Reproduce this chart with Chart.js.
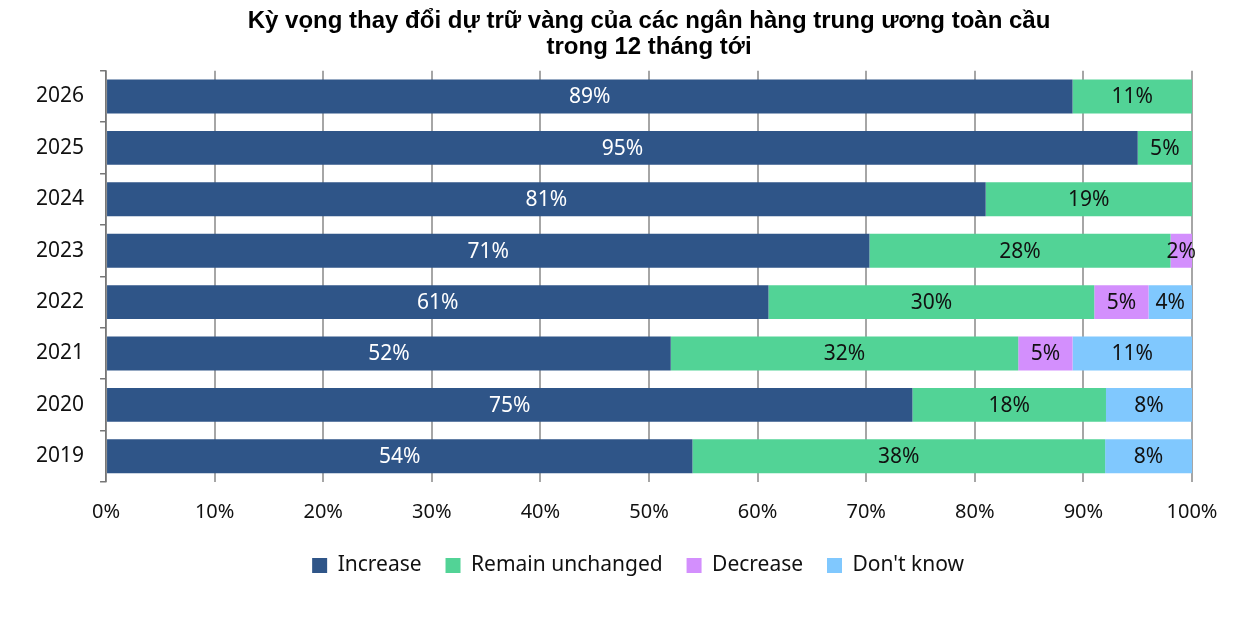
<!DOCTYPE html>
<html>
<head>
<meta charset="utf-8">
<script src="https://cdn.jsdelivr.net/npm/chart.js@4.4.1/dist/chart.umd.min.js"></script>
<style>
  html, body { margin: 0; padding: 0; background: #fff; }
  #wrap { width: 1236px; height: 617px; }
</style>
</head>
<body>
<div id="wrap"><canvas id="myChart" width="1236" height="617"></canvas></div>
<script>
// data (percent of central banks)
const years = ["2026", "2025", "2024", "2023", "2022", "2021", "2020", "2019"];
const increase = [89, 95, 81, 71, 61, 52, 75, 54];
const unchanged = [11, 5, 19, 28, 30, 32, 18, 38];
const decrease = [0, 0, 0, 2, 5, 5, 0, 0];
const dontKnow = [0, 0, 0, 0, 4, 11, 8, 8];
const tickLabels = ["0%", "10%", "20%", "30%", "40%", "50%", "60%", "70%", "80%", "90%", "100%"];

const seriesNames = ["Increase", "Remain unchanged", "Decrease", "Don't know"];
const seriesColors = ["#2f5588", "#52d396", "#d38ffd", "#80c8fe"];
const labelColors = ["#ffffff", "#111111", "#111111", "#111111"];
const raw = [increase, unchanged, decrease, dontKnow];

// 100% stacked like excel: each row scaled to its own sum
const rowSum = years.map((y, i) => raw.reduce((s, arr) => s + arr[i], 0));

const datasets = raw.map((arr, k) => ({
  label: seriesNames[k],
  data: arr.map((v, i) => v / rowSum[i] * 100),
  raw: arr,
  backgroundColor: seriesColors[k],
  borderWidth: 0,
  barPercentage: 0.66,
  categoryPercentage: 1.0,
}));

const segLabels = {
  id: "segLabels",
  afterDatasetsDraw(chart) {
    const ctx = chart.ctx;
    ctx.save();
    ctx.font = "21px 'Noto Sans'";
    ctx.textAlign = "center";
    ctx.textBaseline = "middle";
    chart.data.datasets.forEach((ds, k) => {
      chart.getDatasetMeta(k).data.forEach((bar, i) => {
        const v = ds.raw[i];
        if (!v) return;
        ctx.fillStyle = labelColors[k];
        ctx.fillText(v + "%", (bar.x + bar.base) / 2, bar.y + 1);
      });
    });
    ctx.restore();
  },
};

// wider gaps between legend items, legend sits a bit left of the plot centre
const baseLegendLabels = Chart.defaults.plugins.legend.labels.generateLabels;
function legendLabels(chart) {
  const items = baseLegendLabels(chart);
  items.forEach((it, i) => {
    it.text = it.text + (i < items.length - 1 ? "\u00a0\u00a0" : "\u00a0\u00a0\u00a0\u00a0");
  });
  return items;
}

const config = {
  type: "bar",
  data: { labels: years, datasets: datasets },
  options: {
    indexAxis: "y",
    responsive: false,
    animation: false,
    layout: { padding: { left: 20, right: 44, top: 4, bottom: 31 } },
    plugins: {
      title: {
        display: true,
        fullSize: false,
        text: ["Kỳ vọng thay đổi dự trữ vàng của các ngân hàng trung ương toàn cầu", "trong 12 tháng tới"],
        font: { family: "'Liberation Sans', Arial", size: 24, weight: "bold", lineHeight: 1.1 },
        color: "#000",
        padding: { top: 4, bottom: 10 },
      },
      legend: {
        position: "bottom",
        fullSize: false,
        labels: {
          font: { family: "'Noto Sans'", size: 21 },
          color: "#111",
          boxWidth: 15,
          boxHeight: 15,
          padding: 13,
          generateLabels: legendLabels,
        },
      },
      tooltip: { enabled: false },
    },
    scales: {
      x: {
        stacked: true,
        min: 0,
        max: 100,
        ticks: {
          stepSize: 10,
          padding: 18,
          color: "#111",
          font: { family: "'Noto Sans'", size: 20 },
          callback: (v, i) => tickLabels[i],
        },
        grid: { color: "#a6a6a6", lineWidth: 2, drawTicks: false },
        border: { display: false },
      },
      y: {
        stacked: true,
        ticks: {
          padding: 16,
          color: "#111",
          font: { family: "'Noto Sans'", size: 21 },
        },
        grid: { drawOnChartArea: false, offset: true, tickLength: 6, color: "#777", lineWidth: 1.5 },
        border: { display: true, color: "#777", width: 1.5 },
      },
    },
  },
  plugins: [segLabels],
};

const myChart = new Chart(document.getElementById("myChart"), config);
</script>
</body>
</html>
